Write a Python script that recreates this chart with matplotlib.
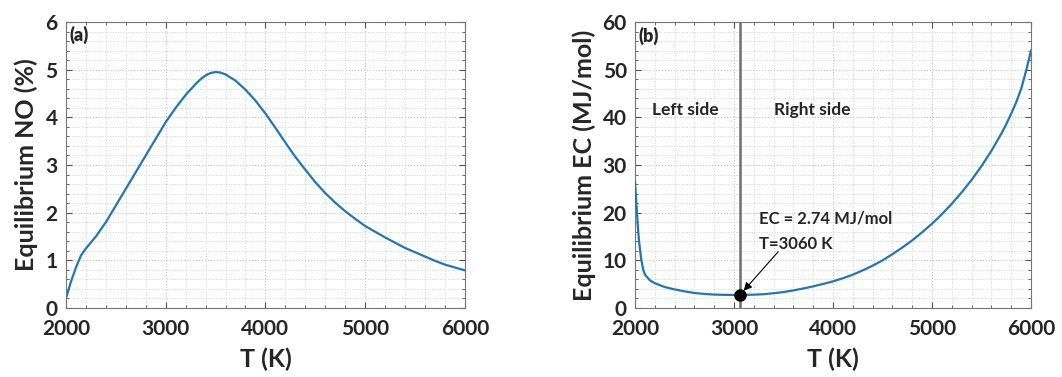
import numpy as np
import matplotlib.pyplot as plt
from matplotlib.ticker import MultipleLocator

plt.rcParams['font.family'] = ['Lato', 'DejaVu Sans']
plt.rcParams['font.weight'] = 'bold'

# equilibrium NO vs temperature
T_no = [2000, 2050, 2100, 2150, 2200, 2300, 2400, 2500, 2600, 2700, 2800, 2900,
        3000, 3100, 3200, 3300, 3350, 3400, 3450, 3500, 3550, 3600, 3700, 3800,
        3900, 4000, 4100, 4200, 4300, 4400, 4500, 4600, 4700, 4800, 4900, 5000,
        5100, 5200, 5300, 5400, 5500, 5600, 5700, 5800, 5900, 6000]
no_pct = [0.2, 0.55, 0.85, 1.1, 1.25, 1.5, 1.8, 2.15, 2.5, 2.85, 3.2, 3.55,
          3.9, 4.2, 4.47, 4.7, 4.8, 4.88, 4.93, 4.95, 4.94, 4.9, 4.77, 4.58,
          4.35, 4.08, 3.78, 3.47, 3.17, 2.9, 2.64, 2.41, 2.21, 2.03, 1.87, 1.72,
          1.6, 1.48, 1.37, 1.26, 1.17, 1.08, 0.99, 0.91, 0.85, 0.79]

# equilibrium energy cost vs temperature
T_ec = [2000, 2010, 2020, 2030, 2040, 2060, 2080, 2100, 2150, 2200, 2300, 2400,
        2500, 2600, 2700, 2800, 2900, 3000, 3060, 3100, 3200, 3300, 3400, 3500,
        3600, 3700, 3800, 3900, 4000, 4100, 4200, 4300, 4400, 4500, 4600, 4700,
        4800, 4900, 5000, 5100, 5200, 5300, 5400, 5500, 5600, 5700, 5750, 5800,
        5850, 5900, 5950, 6000]
ec = [26.4, 23.0, 19.8, 16.5, 14.0, 10.5, 8.2, 7.0, 5.8, 5.2, 4.4, 3.9,
      3.5, 3.15, 2.95, 2.82, 2.76, 2.74, 2.74, 2.75, 2.8, 2.9, 3.1, 3.35,
      3.7, 4.1, 4.55, 5.05, 5.6, 6.25, 7.0, 7.9, 8.9, 10.0, 11.3, 12.7,
      14.2, 15.9, 17.7, 19.7, 21.9, 24.3, 26.9, 29.8, 33.0, 36.6, 38.6, 40.8,
      43.2, 46.0, 49.8, 54.0]

T_min = 3060
ec_min = 2.74

blue = '#2276b6'
txt = '#262626'

fig = plt.figure(figsize=(10.62, 3.77), dpi=100)
ax1 = fig.add_axes([0.0621, 0.183, 0.3757, 0.7586])
ax2 = fig.add_axes([0.598, 0.183, 0.3729, 0.7586])


def style(ax, ymaj, ymin):
    ax.set_xlim(2000, 6000)
    ax.xaxis.set_major_locator(MultipleLocator(1000))
    ax.xaxis.set_minor_locator(MultipleLocator(200))
    ax.yaxis.set_major_locator(MultipleLocator(ymaj))
    ax.yaxis.set_minor_locator(MultipleLocator(ymin))
    ax.grid(which='major', color='#c4c4c4', linestyle=':', linewidth=0.8)
    ax.grid(which='minor', color='#d4d4d4', linestyle=':', linewidth=0.7)
    ax.tick_params(which='both', direction='in', top=True, right=True,
                   color='#555555', labelsize=15, labelcolor=txt)
    ax.tick_params(axis='x', pad=8)
    ax.tick_params(axis='y', pad=6)
    ax.tick_params(which='major', length=4)
    ax.tick_params(which='minor', length=2)
    for s in ax.spines.values():
        s.set_color('#777777')
        s.set_linewidth(0.8)
    for lab in ax.get_xticklabels() + ax.get_yticklabels():
        lab.set_fontweight('bold')
    ax.set_xlabel('T (K)', fontsize=18, fontweight='bold', color=txt, labelpad=6)


# (a) NO concentration
ax1.plot(T_no, no_pct, color=blue, linewidth=1.6)
ax1.set_ylim(0, 6)
style(ax1, 1, 0.2)
ax1.set_ylabel('Equilibrium NO (%)', fontsize=18, fontweight='bold', color=txt, labelpad=5)
ax1.text(2040, 5.72, '(a)', fontsize=13, fontweight='heavy', color=txt, va='center')

# (b) energy cost
ax2.plot(T_ec, ec, color=blue, linewidth=1.6, zorder=3)
ax2.set_ylim(0, 60)
style(ax2, 10, 2)
ax2.set_ylabel('Equilibrium EC (MJ/mol)', fontsize=18, fontweight='bold', color=txt, labelpad=5)
ax2.axvline(T_min, color='#6e6e6e', linewidth=1.8, zorder=2)
ax2.plot([T_min], [ec_min], 'o', color='black', markersize=8, zorder=4)
ax2.text(2030, 57, '(b)', fontsize=13, fontweight='heavy', color=txt, va='center')
ax2.text(2505, 41.5, 'Left side', fontsize=12.5, fontweight='bold', color=txt,
         ha='center', va='center')
ax2.text(3785, 41.5, 'Right side', fontsize=12.5, fontweight='bold', color=txt,
         ha='center', va='center')
ax2.text(3250, 18.7, 'EC = %.2f MJ/mol' % ec_min, fontsize=12, fontweight='bold',
         color=txt, va='center')
ax2.text(3250, 13.5, 'T=%d K' % T_min, fontsize=12, fontweight='bold',
         color=txt, va='center')
ax2.annotate('', xy=(T_min, ec_min), xytext=(3445, 11.8),
             arrowprops=dict(arrowstyle='-|>', color='black', lw=0.8,
                             mutation_scale=12, shrinkA=0, shrinkB=4))

fig.savefig('out.png', dpi=100)
